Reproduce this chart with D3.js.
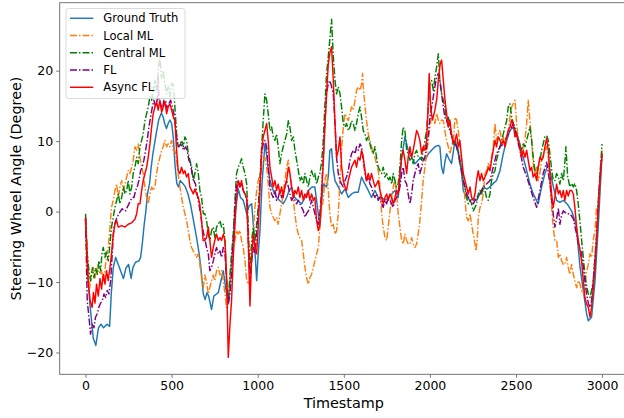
<!DOCTYPE html>
<html><head><meta charset="utf-8">
<script src="https://cdn.jsdelivr.net/npm/d3@7"></script>
<style>body{margin:0;background:#fff}svg{display:block}text{font-family:"DejaVu Sans",sans-serif}</style>
</head><body><svg id="c" width="624" height="418"></svg>
<script>
const xTicks=[0,500,1000,1500,2000,2500,3000];
const yTicks=[-20,-10,0,10,20];
const seriesNames=["Ground Truth","Local ML","Central ML","FL","Async FL"];
const groundTruth=[[0,-1],[12,-8],[25,-13],[45,-18],[60,-19],[75,-16.5],[90,-16],[105,-16.5],[125,-16],[140,-16.3],[150,-11.5],[161,-8],[175,-6.5],[190,-7.5],[205,-8.5],[220,-9.5],[235,-8],[250,-7.5],[265,-9.5],[275,-8],[290,-7.2],[310,-7],[320,-6.5],[330,-4.5],[340,-2],[350,0],[360,2.5],[372,4],[380,6],[390,8],[400,9.5],[410,11],[425,13],[440,14],[450,13.5],[460,12.5],[470,11.8],[480,12.5],[490,13],[500,12.5],[510,10.5],[520,6.5],[530,4],[540,3.5],[550,4.4],[565,4],[580,3.5],[595,2.5],[610,1],[625,-1],[645,-3.7],[660,-6],[670,-8],[684,-11.7],[695,-12.5],[705,-11.5],[715,-12],[732,-13.9],[745,-12],[760,-11.7],[771,-11.5],[785,-10],[800,-8.4],[815,-11],[829,-13.1],[843,-9],[858,-4.1],[870,0],[887,3.2],[900,2],[916,1.6],[936,-0.3],[950,0.8],[965,1.1],[975,-2],[985,-6],[994,-9.8],[1003,-6],[1013,-2.7],[1025,4],[1042,9.6],[1052,8],[1062,6],[1071,4.4],[1090,3],[1110,2],[1130,1.5],[1148,1.1],[1168,2],[1180,2.8],[1197,3.5],[1215,2],[1235,1.5],[1255,1.1],[1275,2],[1294,3],[1315,3.5],[1332,3.5],[1345,1],[1361,-2.2],[1370,1],[1381,3.9],[1400,3.5],[1410,5],[1419,8.7],[1429,8.9],[1439,6],[1449,4.4],[1468,3.5],[1487,2.5],[1507,3.2],[1526,2],[1545,2.5],[1565,2.75],[1584,2.75],[1603,4.9],[1623,3.9],[1642,3],[1661,2],[1681,3],[1700,2],[1720,2],[1739,1.6],[1758,2],[1778,2.5],[1797,3],[1816,2],[1826,4.5],[1836,7.7],[1855,10.6],[1874,8.7],[1894,7.7],[1913,6.8],[1932,7.3],[1952,7.7],[1971,7.3],[1991,8.2],[2010,8.7],[2029,9.2],[2049,9.4],[2058,9.2],[2068,6.3],[2078,5.4],[2087,7],[2097,8.2],[2110,7.5],[2126,6.8],[2136,8.5],[2146,10.1],[2165,8.7],[2184,5.4],[2194,3],[2213,2],[2233,1.6],[2252,1.8],[2271,1.6],[2290,2.5],[2310,3.5],[2330,3.2],[2349,3.5],[2368,4],[2387,4.4],[2407,5.8],[2426,8.2],[2446,10.1],[2465,11.5],[2484,12],[2504,11.1],[2523,9.6],[2542,7.7],[2562,5.8],[2581,3.9],[2600,2.5],[2615,1.8],[2629,1.1],[2649,3.5],[2668,5.4],[2688,6.8],[2700,5.5],[2717,3.5],[2736,1.6],[2755,1.3],[2775,1.6],[2800,1],[2825,0],[2850,-2],[2872,-7.9],[2891,-11.2],[2910,-14.5],[2920,-15.5],[2939,-15],[2959,-9.8],[2978,-2],[3000,8.2]];
const localML=[[0,-1],[10,-6],[20,-9.5],[25,-10.8],[35,-8.5],[45,-7.9],[55,-9.4],[64,-8.4],[74,-7.5],[84,-8.9],[93,-8.4],[103,-9.8],[113,-8.4],[122,-6],[132,-5.1],[142,-2.2],[151,0.6],[161,1.6],[171,3],[181,3.9],[190,2],[200,3.5],[210,4.4],[219,3],[229,3.9],[239,4.9],[248,5.8],[258,5.4],[268,6.3],[277,7.3],[287,9.2],[297,8.7],[306,9.6],[316,7.7],[326,6.3],[335,5.4],[345,3.5],[355,2],[364,1.1],[374,2.5],[384,3.5],[393,3],[403,3.5],[413,5.4],[422,6.8],[432,7.7],[442,8.7],[451,9.2],[461,10.1],[471,9.2],[480,9.6],[490,9.2],[500,10.1],[510,8.7],[519,8.7],[529,7.3],[538,5.4],[548,3.5],[558,2],[568,0.6],[577,-0.3],[587,-1.3],[597,-2.7],[606,-4.1],[616,-5.1],[626,-5.6],[635,-6],[645,-6.5],[655,-6],[664,-7.5],[674,-9.4],[684,-10.8],[693,-9],[703,-10],[713,-11.7],[722,-10.8],[732,-9.8],[742,-9],[751,-9.8],[761,-8.4],[771,-7.9],[781,-9],[790,-8.4],[800,-9.8],[810,-11.7],[819,-13.6],[829,-13.1],[839,-9.8],[848,-7.9],[858,-5.1],[868,-4.1],[877,-2.7],[887,-3.2],[897,-2.7],[906,-4.1],[916,-5.1],[926,-7],[936,-9.8],[945,-10.3],[955,-9.8],[965,-7],[974,-3.2],[984,0.6],[994,3],[1003,4.4],[1013,5.4],[1023,6.3],[1032,7.3],[1042,7.7],[1052,6.3],[1061,4],[1071,0.6],[1081,-0.3],[1090,-0.8],[1100,-1.3],[1110,-0.8],[1119,-1.8],[1129,-0.3],[1139,1.1],[1148,2.5],[1158,4.4],[1168,6.3],[1178,7.3],[1187,5.4],[1197,3.5],[1207,1.6],[1216,-0.3],[1226,-2.2],[1236,-3.2],[1245,-3.7],[1255,-4.1],[1265,-6],[1274,-7.9],[1284,-9.4],[1294,-10.3],[1303,-9.4],[1313,-8.9],[1323,-7.9],[1332,-7],[1342,-6],[1352,-5.1],[1361,-2.2],[1371,0.5],[1381,1.6],[1390,4.4],[1400,5.4],[1410,3],[1419,-0.3],[1429,-2.2],[1439,-1.8],[1449,-3.2],[1458,-2.7],[1468,-0.3],[1478,4.4],[1487,8.7],[1497,12],[1507,13.9],[1516,13.4],[1526,12.9],[1536,13.9],[1545,14.85],[1555,14.4],[1565,15.8],[1574,17.2],[1584,17.7],[1594,17.2],[1603,18],[1609,19.6],[1613,17.7],[1623,15],[1632,12.9],[1642,11],[1652,10.1],[1661,9.2],[1671,8.2],[1681,7.7],[1690,6.8],[1700,5.8],[1710,3.5],[1720,-0.3],[1729,-2.2],[1739,-3.7],[1749,-4.1],[1758,-2.2],[1768,0.1],[1778,2],[1787,3.5],[1797,4.5],[1807,2.5],[1816,-0.3],[1826,-2.2],[1836,-4.1],[1845,-4.6],[1855,-3.2],[1865,-4.1],[1874,-4.6],[1884,-4.6],[1894,-3.7],[1903,-4.6],[1913,-5.1],[1923,-4.6],[1932,-3.2],[1942,-1.3],[1952,1.6],[1961,4.4],[1971,6.3],[1981,8.2],[1991,10.1],[2000,12],[2010,13.4],[2020,13],[2029,12.5],[2039,13.9],[2049,13],[2058,12.5],[2068,13],[2078,12.9],[2087,11.5],[2097,10.1],[2107,9.2],[2116,8.2],[2126,9.2],[2136,10.1],[2146,13.4],[2155,13],[2165,11.5],[2174,9.6],[2184,7],[2194,4.4],[2204,1.6],[2213,-0.8],[2223,-1.3],[2233,-0.3],[2242,-1.8],[2252,-3.2],[2262,-4.6],[2267,-5.6],[2275,-4.1],[2281,-0.8],[2291,0.6],[2300,1.1],[2310,2.5],[2320,5.4],[2329,5.8],[2339,6.8],[2349,6.3],[2358,7.7],[2368,9.2],[2378,12.5],[2387,10.1],[2397,11],[2407,11.5],[2417,10.1],[2426,10.6],[2436,9.2],[2446,10.1],[2455,11.5],[2465,13.4],[2475,14.85],[2484,15.3],[2494,15.8],[2504,12.5],[2513,10.1],[2523,8.7],[2533,7.7],[2542,9.2],[2552,10.1],[2562,12.5],[2571,15.8],[2581,12.9],[2591,10.1],[2600,6.8],[2610,5.4],[2620,6.3],[2629,4.4],[2639,5.4],[2649,7.3],[2658,8.2],[2668,8.7],[2678,9.2],[2688,7.7],[2697,4.4],[2707,0.6],[2716,-2.2],[2726,-4.1],[2736,-4.1],[2746,-6.5],[2755,-6],[2765,-7],[2775,-7.5],[2784,-7.5],[2794,-6.5],[2804,-8],[2813,-8.9],[2823,-7.5],[2833,-8.9],[2842,-9.8],[2852,-10.8],[2862,-9.8],[2872,-10.3],[2881,-11.2],[2891,-11.7],[2900,-10.3],[2910,-8.5],[2920,-7.5],[2930,-6],[2939,-6.5],[2949,-4],[2959,-2.7],[2968,0.6],[2978,0.6],[2988,4.4],[3000,8.7]];
const centralML=[[0,-0.3],[10,-6],[20,-8.4],[30,-9.8],[40,-8],[49,-9.4],[59,-8],[69,-8.9],[78,-7],[88,-8.4],[95,-6],[103,-5.1],[113,-6.5],[122,-5.6],[132,-7],[142,-4.6],[151,-2.2],[161,-0.8],[171,0.6],[181,1.6],[190,2.5],[200,1.1],[210,2],[220,3.5],[229,2.5],[239,3],[248,4.4],[258,2.5],[268,3.5],[277,5.4],[287,6.3],[297,7.7],[306,6.8],[316,9.2],[326,10.1],[335,11],[345,12.9],[355,13.9],[364,14.85],[374,16.3],[384,15.8],[393,17.7],[400,17.1],[403,18.6],[413,17.2],[422,20],[432,21.8],[442,19],[451,20],[461,18.2],[471,16.7],[480,17.7],[490,16.3],[500,18.2],[510,18],[519,14.85],[529,11],[538,9.2],[548,9.6],[558,10.1],[568,9.2],[577,10.6],[587,10.1],[597,8.2],[606,7.3],[616,6.3],[626,4.4],[635,5.4],[645,6.8],[655,5.4],[664,3],[674,2],[684,-0.3],[693,-0.3],[703,-1.3],[713,-3.2],[722,-4.1],[732,-2.7],[742,-2.2],[751,-3.7],[761,-2.2],[771,-1.8],[781,-1.3],[790,-2.2],[800,-1.8],[810,-4.1],[819,-9.8],[829,-12.7],[839,-8.9],[848,-6],[858,-3.2],[868,1.6],[877,5.4],[887,6.3],[897,6.8],[906,7.5],[916,6.3],[926,5.4],[936,3.9],[945,-2.2],[955,-8.4],[965,-4.1],[974,-2.2],[984,-4.1],[994,-1.8],[1003,0.6],[1013,4.4],[1023,9.2],[1032,12.9],[1042,16.7],[1052,15.8],[1061,13.9],[1071,11.5],[1081,12],[1090,10.6],[1100,10.1],[1110,11],[1119,9.2],[1129,6.8],[1139,8.2],[1148,9.2],[1158,10.1],[1168,11],[1178,12.9],[1187,12],[1197,10.1],[1207,10.6],[1216,8.7],[1226,7.3],[1236,5.8],[1245,4.4],[1255,4.9],[1265,3.9],[1274,5.4],[1284,4.4],[1294,3.5],[1303,4.9],[1313,5.8],[1323,4.9],[1332,5.4],[1342,3.9],[1352,4.9],[1361,5.4],[1371,7],[1381,10.1],[1390,15],[1400,19.6],[1410,22],[1419,24.5],[1429,27.3],[1439,22],[1449,18.6],[1458,16.7],[1468,17.7],[1478,16.7],[1487,14.85],[1497,12.5],[1507,12],[1516,12.5],[1526,11.5],[1536,12],[1545,12.9],[1555,12.5],[1565,11.5],[1574,12.5],[1584,13.9],[1594,14.85],[1603,13.4],[1613,11.5],[1623,11],[1632,10.1],[1642,10.6],[1652,9.6],[1661,8.7],[1671,8.2],[1681,9.2],[1690,7.7],[1700,6.3],[1710,5.8],[1720,5.4],[1729,6.3],[1739,4.9],[1749,5.4],[1758,4.4],[1768,4.9],[1778,3.9],[1787,5.4],[1797,4.4],[1806,3.5],[1816,3.9],[1826,6.3],[1836,10.1],[1845,12],[1855,11.5],[1865,8.7],[1874,8.2],[1884,7.3],[1894,7.7],[1903,6.8],[1913,8.2],[1923,8.7],[1932,7.7],[1942,7.7],[1952,7.3],[1961,8.7],[1971,10.1],[1981,11.5],[1991,14.85],[2000,18.2],[2010,18.6],[2020,17.2],[2029,19],[2039,20.5],[2049,22.4],[2058,18.6],[2068,16.7],[2078,15.8],[2087,14.85],[2097,13],[2107,13.4],[2116,12],[2126,10.6],[2136,9.6],[2146,10.1],[2155,9.2],[2165,8.2],[2174,6.8],[2184,6.3],[2194,4.4],[2204,3.5],[2213,2],[2223,1.1],[2233,1.6],[2242,1.1],[2252,0.1],[2262,0.6],[2271,1.1],[2281,2.5],[2291,3],[2300,2.5],[2310,3.5],[2320,3],[2329,2],[2339,1.6],[2349,2.5],[2358,4.4],[2368,5.4],[2378,5.8],[2387,7.3],[2397,8.2],[2407,9.2],[2417,10.1],[2426,11],[2436,12],[2446,12.9],[2455,14.85],[2465,15.3],[2475,13.4],[2484,12.5],[2494,12],[2504,11],[2513,10.1],[2523,9.2],[2533,8.7],[2542,9.6],[2552,9.2],[2562,10.1],[2571,11],[2581,12],[2591,10.1],[2600,7.7],[2610,5.8],[2620,5.4],[2629,6.3],[2639,7.3],[2649,8.7],[2658,9.6],[2668,10.6],[2678,10.8],[2688,10.1],[2697,8.2],[2707,6],[2716,4.4],[2726,4.4],[2736,5.4],[2746,4.9],[2755,3.9],[2765,5.4],[2775,4.4],[2784,7],[2790,9.2],[2800,5],[2813,3.5],[2823,4],[2833,3.5],[2842,4],[2852,3],[2862,1],[2872,-1.5],[2881,-4],[2891,-6.5],[2900,-8.9],[2910,-10.5],[2920,-11.7],[2930,-12.2],[2939,-11.2],[2949,-9.8],[2959,-6.5],[2968,-4.1],[2978,0.6],[2988,5.4],[3000,9.6]];
const fl=[[0,-1],[10,-12.7],[20,-15],[29,-17.4],[39,-16],[49,-16.5],[58,-15],[68,-14.5],[77,-13.6],[87,-13],[97,-12.7],[107,-11.7],[117,-12.2],[126,-11.2],[136,-11.7],[146,-9.8],[155,-6],[165,-2.2],[175,-1.3],[184,-0.8],[194,-0.3],[204,0.1],[213,0.4],[223,0.1],[233,0.1],[242,0.6],[252,1.1],[262,1.6],[271,2],[281,2],[291,3],[300,3.5],[310,4.4],[320,5.8],[329,6.3],[339,7.3],[349,8.7],[358,10.1],[368,12],[378,13.4],[388,14.85],[397,15.8],[407,14.85],[417,16],[422,19.1],[427,16],[436,15.3],[446,14.4],[455,15.8],[465,15.8],[475,14.4],[484,15.3],[494,15.8],[504,14.85],[513,13.9],[523,12],[533,9.6],[542,9.2],[552,9.6],[561,9.2],[571,8.7],[581,9.2],[590,8.7],[600,7.3],[610,6.8],[619,5.4],[629,4.4],[639,3.9],[648,2.5],[658,1.1],[668,-0.3],[678,-2.2],[687,-3.2],[703,-5.1],[713,-6],[722,-8.4],[732,-7.9],[742,-7],[751,-6],[761,-5.1],[771,-6],[781,-5.6],[790,-6.5],[800,-5.1],[810,-6],[819,-9.8],[829,-13.1],[839,-11.7],[848,-8.9],[858,-4.1],[868,0.6],[877,3.9],[887,4.4],[897,3.5],[906,3.9],[916,3],[926,2.5],[936,1.6],[945,-4.1],[955,-9.8],[965,-7],[974,-5.1],[984,-6],[994,-3.2],[1003,-0.3],[1013,3.5],[1023,8.2],[1032,9.6],[1042,10.1],[1052,9.2],[1061,6.3],[1071,3.5],[1081,2.5],[1090,2],[1100,3],[1110,1.6],[1119,2],[1129,3],[1139,2],[1148,2.5],[1158,3.5],[1168,4.4],[1178,3.5],[1187,2.5],[1197,1.6],[1207,2],[1216,1.6],[1226,1.1],[1236,1.6],[1245,1.1],[1255,0.6],[1265,0.1],[1274,-0.8],[1284,-0.3],[1294,0.1],[1303,0.6],[1313,1.6],[1323,0.6],[1332,-0.3],[1342,-1.3],[1352,-1.8],[1361,-0.3],[1371,3],[1381,7.7],[1390,12.5],[1400,16.7],[1410,18.2],[1419,18.6],[1429,17.7],[1439,16.7],[1449,12.5],[1458,7.7],[1468,5.4],[1478,4.4],[1487,3.9],[1497,3.5],[1507,4.4],[1516,4.9],[1526,5.8],[1536,7.3],[1545,8.2],[1555,8.7],[1565,8.2],[1574,9.2],[1584,8.7],[1594,9.6],[1603,9.2],[1613,7.3],[1623,5.4],[1632,4.4],[1642,4.9],[1652,3.9],[1661,3.5],[1671,2.5],[1681,2],[1690,2.5],[1700,1.6],[1710,2],[1720,1.1],[1729,0.6],[1739,1.6],[1749,1.1],[1758,2],[1768,1.6],[1778,1.1],[1787,0.6],[1797,1.6],[1807,2],[1816,2.5],[1826,3.5],[1836,5.4],[1845,6.3],[1855,4.4],[1865,3.9],[1874,2.5],[1884,1.1],[1894,2.5],[1903,4.4],[1913,5.4],[1923,6.3],[1932,6.8],[1942,5.4],[1952,6.3],[1961,7.3],[1971,7.7],[1981,9.2],[1991,11],[2000,13.4],[2010,14.85],[2020,16.3],[2029,17.7],[2039,19.1],[2049,19.6],[2058,18.6],[2068,16.7],[2078,14.85],[2087,13.4],[2097,12.9],[2116,11.5],[2136,10.1],[2155,9.2],[2174,7.3],[2194,4.4],[2213,2.5],[2233,1.6],[2252,1.1],[2271,2],[2291,2.5],[2310,3.5],[2329,3.9],[2349,4.4],[2368,6.3],[2387,8.2],[2407,9.2],[2426,9.6],[2446,10.6],[2465,11.5],[2484,12.5],[2504,10.6],[2523,8.7],[2542,6.3],[2562,5],[2581,3.5],[2600,2],[2620,0.6],[2639,3],[2658,5.4],[2678,7],[2697,4],[2716,-0.3],[2726,-2.2],[2736,-1],[2746,0.5],[2755,-1.8],[2765,-0.5],[2775,0.1],[2794,-0.3],[2813,-0.3],[2833,-1],[2852,-3.2],[2862,-4.5],[2881,-6],[2891,-8],[2900,-9.8],[2910,-11.7],[2920,-13],[2930,-13.6],[2939,-12.7],[2949,-9.8],[2959,-6.5],[2968,-3.2],[2978,1.5],[2988,5],[3000,8.2]];
const asyncFL=[[0,-0.8],[8,-6],[15,-10],[27,-12.7],[38,-13.6],[46,-11.5],[55,-13],[64,-10.3],[74,-12],[84,-9.5],[93,-11],[103,-8.9],[113,-10.3],[122,-8.4],[132,-9.8],[142,-7.9],[151,-6],[161,-3.2],[171,-1.8],[181,-1.3],[190,-2.2],[210,-2],[229,-2.2],[248,-1.8],[268,-1.6],[287,-1.1],[297,-0.3],[306,1.1],[316,1.1],[326,3],[335,4.4],[345,5.4],[355,6.3],[364,7.7],[374,9.6],[384,12],[393,13.9],[403,14.85],[413,15.6],[422,14.4],[432,15.8],[442,14.1],[451,14.85],[461,15.6],[471,13.9],[480,14.85],[490,15.3],[500,14.4],[510,13.4],[519,12.9],[529,8.7],[538,5.8],[548,5.4],[558,6.3],[568,5.4],[577,5.8],[587,4.9],[597,5.4],[606,3.5],[616,3],[626,2.5],[635,3.2],[645,2.5],[655,2],[664,1],[674,-1.3],[683,-4.1],[693,-4.1],[703,-3.7],[713,-2.2],[722,-4.1],[732,-6.5],[742,-5.1],[751,-4.1],[761,-3.2],[771,-4.1],[781,-3.7],[790,-4.1],[800,-3.2],[810,-4.1],[819,-8.9],[829,-20.7],[839,-16],[848,-12.7],[858,-6.5],[868,-1.8],[877,2],[887,4.4],[897,3.5],[906,4.4],[916,3],[926,2.5],[936,2],[945,-4.1],[955,-13.4],[965,-6.5],[974,-3.2],[984,-5.1],[994,-6],[1003,-2.2],[1013,3],[1023,8.7],[1032,10.6],[1042,11.5],[1052,12.5],[1061,10.1],[1071,6.3],[1081,4.9],[1090,3.5],[1100,4.4],[1110,3],[1119,3.9],[1129,2.5],[1139,3.5],[1148,2],[1158,3.5],[1168,4.4],[1178,6.3],[1187,5.4],[1197,3.5],[1207,2],[1216,3],[1226,2.5],[1236,3.5],[1245,2],[1255,3],[1265,1.6],[1274,2.5],[1284,2],[1294,3],[1303,1.6],[1313,2.5],[1323,1.6],[1332,2],[1342,-1.3],[1352,-2.7],[1361,-1.8],[1371,2.5],[1381,7],[1390,12],[1400,16.7],[1410,21],[1419,22.5],[1429,23.4],[1439,18.6],[1449,12.5],[1458,7.7],[1468,8.7],[1478,10.6],[1487,6.5],[1497,4.4],[1507,3.5],[1516,3],[1526,4.4],[1536,5.4],[1545,6.3],[1555,6.8],[1565,7.3],[1574,6.3],[1584,7.7],[1594,7.3],[1603,8.7],[1613,7.7],[1623,5.8],[1632,4.4],[1642,5.4],[1652,4.4],[1661,5.4],[1671,4.4],[1681,3.5],[1690,3.9],[1700,4.4],[1710,3],[1720,2],[1729,1.1],[1739,2],[1749,2.5],[1758,1.6],[1768,2.5],[1778,2],[1787,1.1],[1797,2],[1807,3],[1816,2.5],[1826,5.4],[1836,7.7],[1845,8.7],[1855,7.3],[1865,5.4],[1874,7.7],[1884,9.2],[1894,7.7],[1903,8.7],[1913,10.1],[1923,11.5],[1932,11],[1942,10.1],[1952,8.2],[1961,9.2],[1971,8.7],[1981,10.1],[1988,14],[1996,19.6],[2005,14.5],[2015,13],[2029,14.4],[2040,16],[2050,19],[2060,21],[2068,21.5],[2078,18.6],[2087,16],[2097,13.9],[2107,12],[2116,13],[2126,11],[2136,9.6],[2146,10.1],[2155,11],[2165,9.2],[2174,10.1],[2184,7.7],[2194,5.4],[2204,4.4],[2213,3.5],[2223,2.5],[2233,3.5],[2242,2],[2252,1.6],[2262,2.5],[2271,4.4],[2281,5.8],[2291,4.4],[2300,5.4],[2310,4.4],[2320,4.9],[2329,5.4],[2339,6.3],[2349,5.8],[2358,7.3],[2368,8.7],[2378,10.1],[2387,9.2],[2397,10.6],[2407,10.1],[2417,9.6],[2426,10.1],[2436,9.2],[2446,10.6],[2455,11.5],[2465,12],[2475,13],[2484,12.5],[2494,10.6],[2504,11],[2513,10.1],[2523,9.2],[2533,7.7],[2542,8.7],[2552,7.7],[2562,8.7],[2571,7.3],[2581,5.8],[2591,6.3],[2600,4.9],[2610,5.4],[2620,4.4],[2629,6.3],[2639,7.7],[2649,7.3],[2658,7.7],[2668,9.2],[2678,10.4],[2688,8.7],[2697,5.4],[2707,2.5],[2716,0.6],[2726,2],[2736,3.9],[2746,2.5],[2755,3],[2765,2],[2775,3],[2784,1.6],[2794,3],[2804,2.2],[2813,3],[2823,3],[2833,2.5],[2842,0.6],[2852,-2.2],[2862,-4.1],[2872,-5.6],[2881,-7],[2891,-9.8],[2900,-12.2],[2910,-13.1],[2920,-13.6],[2930,-15],[2939,-13.6],[2949,-10.8],[2959,-7.9],[2968,-4.1],[2978,0.6],[2988,4.4],[3000,8.2]];

const series=[
 {name:seriesNames[0],data:groundTruth,color:"#1f77b4",dash:null},
 {name:seriesNames[1],data:localML,color:"#ff7f0e",dash:"7,2,1.5,2"},
 {name:seriesNames[2],data:centralML,color:"#008000",dash:"7,2,1.5,2"},
 {name:seriesNames[3],data:fl,color:"#800080",dash:"7,2,1.5,2"},
 {name:seriesNames[4],data:asyncFL,color:"#ff0000",dash:null}
];

const svg=d3.select("#c");
const L=59.7,R=627.9,T=2.7,B=374.3;
const x=d3.scaleLinear().domain([-150,3150]).range([L,R]);
const y=d3.scaleLinear().domain([-23.1,29.65]).range([B,T]);

const line=d3.line().x(d=>x(d[0])).y(d=>y(d[1]));
const g=svg.append("g");
series.forEach(s=>{
  g.append("path").datum(s.data).attr("d",line).attr("fill","none")
   .attr("stroke",s.color).attr("stroke-width",1.45)
   .attr("stroke-dasharray",s.dash).attr("stroke-linejoin","round");
});

const axisCol="#666";
const xAxis=d3.axisBottom(x).tickValues(xTicks).tickSize(3.5).tickPadding(3).tickFormat(d3.format("d"));
const yAxis=d3.axisLeft(y).tickValues(yTicks).tickSize(3.5).tickPadding(3).tickFormat(d=>d<0?"\u2212"+Math.abs(d):d);
const gx=svg.append("g").attr("transform",`translate(0,${B})`).call(xAxis);
const gy=svg.append("g").attr("transform",`translate(${L},0)`).call(yAxis);
[gx,gy].forEach(a=>{a.select(".domain").remove();a.selectAll("line").attr("stroke",axisCol).attr("stroke-width",0.9);a.selectAll("text").attr("fill","#000").style("font-size","12.5px").style("font-family","DejaVu Sans");});
gx.selectAll("text").attr("dy","0.71em");
svg.append("rect").attr("x",L).attr("y",T).attr("width",R-L).attr("height",B-T).attr("fill","none").attr("stroke",axisCol).attr("stroke-width",0.9);

svg.append("text").attr("x",(L+R)/2).attr("y",407.5).attr("text-anchor","middle").style("font-size","14.4px").text("Timestamp");
svg.append("text").attr("transform",`translate(21,${(T+B)/2}) rotate(-90)`).attr("text-anchor","middle").style("font-size","14.4px").text("Steering Wheel Angle (Degree)");

const lg=svg.append("g");
lg.append("rect").attr("x",66).attr("y",8.5).attr("width",119).attr("height",90).attr("rx",2.5)
  .attr("fill","#fff").attr("fill-opacity",0.8).attr("stroke","#d0d0d0").attr("stroke-width",0.8);
series.forEach((s,i)=>{
  const yy=18.3+i*17.25;
  lg.append("line").attr("x1",70).attr("x2",93.3).attr("y1",yy).attr("y2",yy)
    .attr("stroke",s.color).attr("stroke-width",1.45).attr("stroke-dasharray",s.dash);
  lg.append("text").attr("x",103.3).attr("y",yy).attr("dy","0.36em").style("font-size","11.5px").text(s.name);
});
</script></body></html>
